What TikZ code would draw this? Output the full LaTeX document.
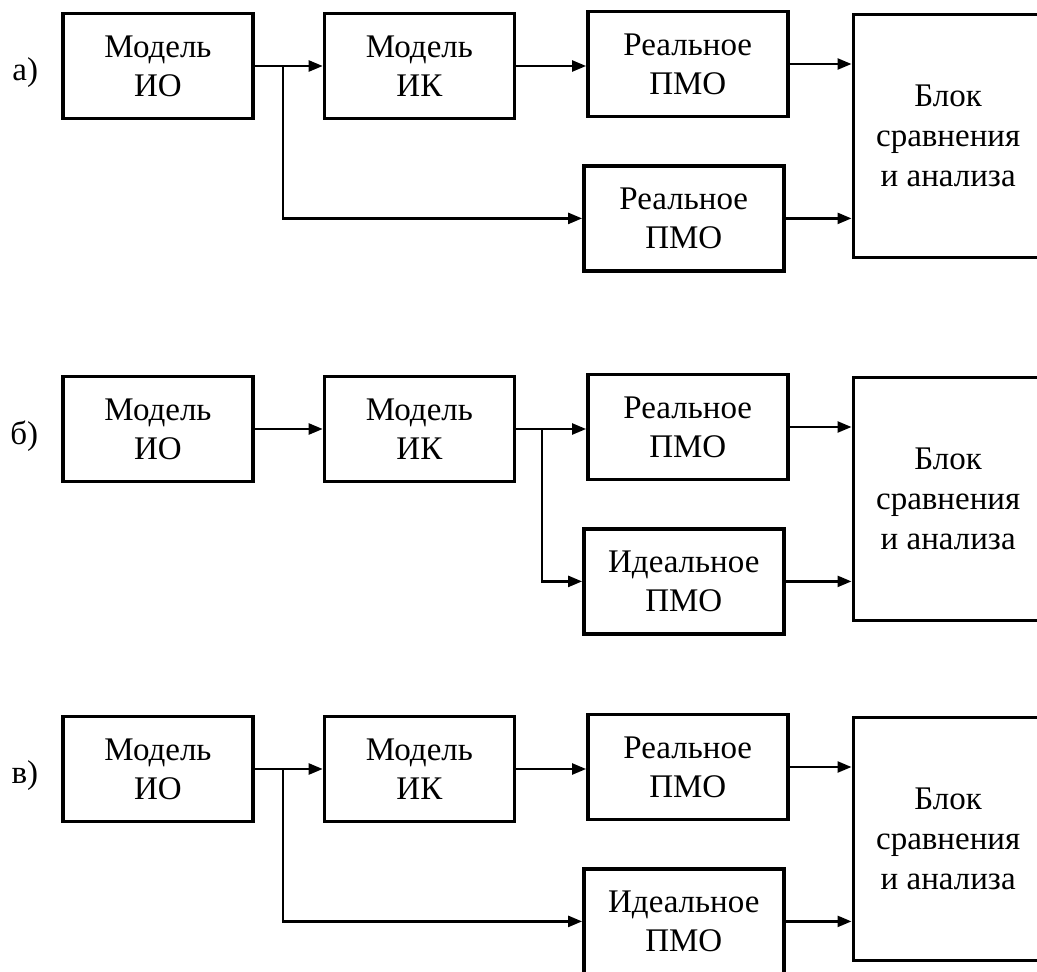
\documentclass[tikz,border=0pt]{standalone}
\usepackage{fontspec}
\setmainfont{Liberation Serif}
\usetikzlibrary{positioning,arrows.meta}

\begin{document}
\begin{tikzpicture}[x=1pt,y=-1pt,>={Triangle[length=14pt,width=11pt]},node distance=68pt]
  \tikzstyle{mbox}=[draw,line width=3.4pt,minimum width=190pt,minimum height=105pt,
    inner sep=0pt,align=center,font=\fontsize{33}{39}\selectfont]
  \tikzstyle{pbox}=[mbox,minimum width=200pt]
  \tikzstyle{bbox}=[mbox,minimum width=190pt,minimum height=243pt,font=\fontsize{33}{40}\selectfont]
  \tikzstyle{conn}=[line width=2.4pt]
  \tikzstyle{tag}=[font=\fontsize{33}{39}\selectfont,inner sep=0pt]
  \useasboundingbox (0,0) rectangle (1037,972);
  \fill[white] (0,0) rectangle (1037,972);
  \clip (0,0) rectangle (1037,972);
  % a)
  \node[mbox] (ioa) at (158,66) {Модель\\ИО};
  \node[tag,left=23pt of ioa,yshift=-7pt] (taga) {а)};
  \node[mbox,right=of ioa] (ika) {Модель\\ИК};
  \node[pbox,right=70pt of ika,yshift=2pt] (reala) {Реальное\\ПМО};
  \node[pbox,below=46pt of reala,xshift=-4pt] (seconda) {Реальное\\ПМО};
  \node[bbox,right=62pt of reala.north east,anchor=north west,yshift=-3pt] (bloka) {Блок\\сравнения\\и анализа};
  \coordinate[right=28pt of ioa.east] (spa);
  \draw[->,conn] (ioa) -- (ika);
  \draw[->,conn] (spa) |- (seconda);
  \draw[->,conn] (ika.east) -- (ika.east -| reala.west);
  \draw[->,conn] (reala.east) -- (reala.east -| bloka.west);
  \draw[->,conn] (seconda.east) -- (seconda.east -| bloka.west);
  % b)
  \begin{scope}[yshift=-363pt]
  \node[mbox] (iob) at (158,66) {Модель\\ИО};
  \node[tag,left=23pt of iob,yshift=-7pt] (tagb) {б)};
  \node[mbox,right=of iob] (ikb) {Модель\\ИК};
  \node[pbox,right=70pt of ikb,yshift=2pt] (realb) {Реальное\\ПМО};
  \node[pbox,below=46pt of realb,xshift=-4pt] (idealb) {Идеальное\\ПМО};
  \node[bbox,right=62pt of realb.north east,anchor=north west,yshift=-3pt] (blokb) {Блок\\сравнения\\и анализа};
  \coordinate[right=26pt of ikb.east] (spb);
  \draw[->,conn] (iob) -- (ikb);
  \draw[->,conn] (ikb.east) -- (ikb.east -| realb.west);
  \draw[->,conn] (spb) |- (idealb);
  \draw[->,conn] (realb.east) -- (realb.east -| blokb.west);
  \draw[->,conn] (idealb.east) -- (idealb.east -| blokb.west);
  \end{scope}
  % c)
  \begin{scope}[yshift=-703pt]
  \node[mbox] (ioc) at (158,66) {Модель\\ИО};
  \node[tag,left=23pt of ioc,yshift=-7pt] (tagc) {в)};
  \node[mbox,right=of ioc] (ikc) {Модель\\ИК};
  \node[pbox,right=70pt of ikc,yshift=2pt] (realc) {Реальное\\ПМО};
  \node[pbox,below=46pt of realc,xshift=-4pt] (idealc) {Идеальное\\ПМО};
  \node[bbox,right=62pt of realc.north east,anchor=north west,yshift=-3pt] (blokc) {Блок\\сравнения\\и анализа};
  \coordinate[right=28pt of ioc.east] (spc);
  \draw[->,conn] (ioc) -- (ikc);
  \draw[->,conn] (spc) |- (idealc);
  \draw[->,conn] (ikc.east) -- (ikc.east -| realc.west);
  \draw[->,conn] (realc.east) -- (realc.east -| blokc.west);
  \draw[->,conn] (idealc.east) -- (idealc.east -| blokc.west);
  \end{scope}
\end{tikzpicture}
\end{document}
